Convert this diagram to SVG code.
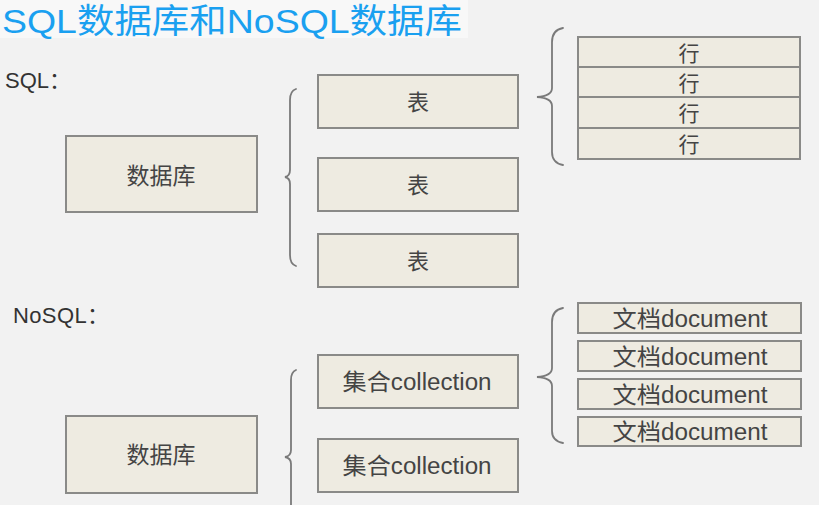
<svg xmlns="http://www.w3.org/2000/svg" width="825" height="505" viewBox="0 0 825 505">
<style>
.bx{fill:#eeebe1;stroke:#8a8a88;stroke-width:2}
.t{font-family:"Liberation Sans","Noto Sans CJK SC",sans-serif;fill:#444;text-anchor:middle}
.lbl{font-family:"Liberation Sans","Noto Sans CJK SC",sans-serif;fill:#333}
.br{fill:none;stroke:#7a7a7a;stroke-width:1.8;stroke-linecap:round}
</style>
<rect x="0" y="0" width="825" height="505" fill="#ffffff"/>
<rect x="0" y="0" width="819" height="505" fill="#f2f2f2"/>
<rect x="0" y="0" width="468" height="38" fill="#f8f8f8"/>
<text x="2" y="33" font-size="34" textLength="460" lengthAdjust="spacingAndGlyphs" style="font-family:'Liberation Sans','Noto Sans CJK SC',sans-serif;fill:#1aa0f0">SQL数据库和NoSQL数据库</text>
<text class="lbl" x="5" y="88" font-size="22" textLength="66" lengthAdjust="spacing">SQL：</text>
<text class="lbl" x="13" y="323" font-size="22" textLength="96" lengthAdjust="spacing">NoSQL：</text>

<g id="connectors">
<path class="br" d="M296,89 Q290,91 290,100 L290,170 Q290,176 285,177 Q290,178 290,184 L290,255 Q290,264 296,266"/>
<path class="br" d="M563,28 Q552,30 552,42 L552,88 Q552,96 537,97 Q552,98 552,106 L552,152 Q552,163 563,165"/>
<path class="br" d="M296,370 Q291,372 291,380 L291,450 Q291,456 285,457 Q291,458 291,464 L291,505"/>
<path class="br" d="M563,308 Q552,310 552,322 L552,368 Q552,376 537,377 Q552,378 552,386 L552,431 Q552,441 563,443"/>
</g>

<g id="sql-db"><rect class="bx" x="66" y="136" width="191" height="76"/><text class="t" x="161" y="184" font-size="23">数据库</text></g>
<g id="table1"><rect class="bx" x="318" y="75" width="200" height="53"/><text class="t" x="418" y="110" font-size="22">表</text></g>
<g id="table2"><rect class="bx" x="318" y="158" width="200" height="53"/><text class="t" x="418" y="193" font-size="22">表</text></g>
<g id="table3"><rect class="bx" x="318" y="234" width="200" height="53"/><text class="t" x="418" y="269" font-size="22">表</text></g>
<g id="row1"><rect class="bx" x="578" y="37" width="222" height="30"/><text class="t" x="689" y="61" font-size="21">行</text></g>
<g id="row2"><rect class="bx" x="578" y="67" width="222" height="30"/><text class="t" x="689" y="91" font-size="21">行</text></g>
<g id="row3"><rect class="bx" x="578" y="97" width="222" height="31"/><text class="t" x="689" y="121" font-size="21">行</text></g>
<g id="row4"><rect class="bx" x="578" y="128" width="222" height="31"/><text class="t" x="689" y="152" font-size="21">行</text></g>

<g id="nosql-db"><rect class="bx" x="66" y="416" width="191" height="77"/><text class="t" x="161" y="463" font-size="23">数据库</text></g>
<g id="collection1"><rect class="bx" x="318" y="355" width="200" height="53"/><text class="t" x="417" y="390" font-size="23" textLength="149" lengthAdjust="spacingAndGlyphs">集合collection</text></g>
<g id="collection2"><rect class="bx" x="318" y="439" width="200" height="53"/><text class="t" x="417" y="474" font-size="23" textLength="149" lengthAdjust="spacingAndGlyphs">集合collection</text></g>
<g id="doc1"><rect class="bx" x="578" y="303" width="223" height="30"/><text class="t" x="690" y="327" font-size="23" textLength="155" lengthAdjust="spacingAndGlyphs">文档document</text></g>
<g id="doc2"><rect class="bx" x="578" y="341" width="223" height="30"/><text class="t" x="690" y="365" font-size="23" textLength="155" lengthAdjust="spacingAndGlyphs">文档document</text></g>
<g id="doc3"><rect class="bx" x="578" y="379" width="223" height="30"/><text class="t" x="690" y="403" font-size="23" textLength="155" lengthAdjust="spacingAndGlyphs">文档document</text></g>
<g id="doc4"><rect class="bx" x="578" y="417" width="223" height="29"/><text class="t" x="690" y="440" font-size="23" textLength="155" lengthAdjust="spacingAndGlyphs">文档document</text></g>
</svg>
